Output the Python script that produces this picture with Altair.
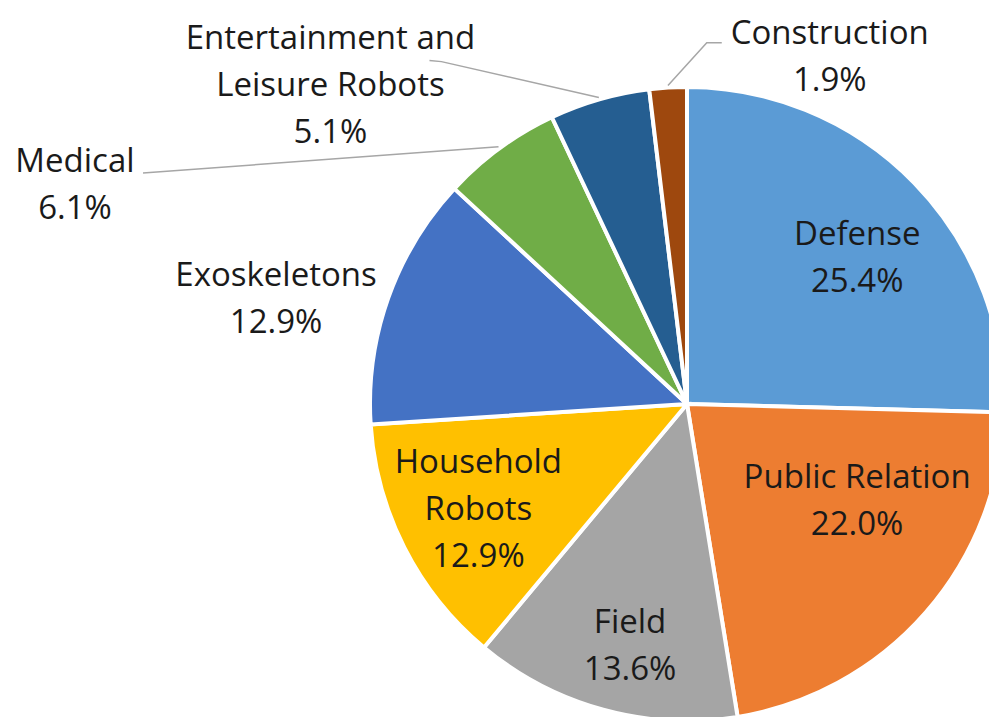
import math
import altair as alt
import pandas as pd

# ---- data ----
categories = ["Defense", "Public Relation", "Field", "Household Robots",
              "Exoskeletons", "Medical", "Entertainment and Leisure Robots", "Construction"]
values = [25.4, 22.0, 13.6, 12.9, 12.9, 6.1, 5.1, 1.9]
label_lines = [["Defense"], ["Public Relation"], ["Field"], ["Household", "Robots"],
               ["Exoskeletons"], ["Medical"], ["Entertainment and", "Leisure Robots"],
               ["Construction"]]
colors = ["#5B9BD5", "#ED7D31", "#A5A5A5", "#FFC000", "#4472C4", "#70AD47", "#255E91", "#9E480E"]

# ---- layout ----
W, H = 981, 709
CX, CY, R = 679, 396, 317
LH = 47
# label placement: (radius from centre, angle nudge in degrees) relative to slice mid angle
label_place = {
    "Defense": (224, 3.7),
    "Public Relation": (196, -11.4),
    "Field": (249, -2.1),
    "Household Robots": (234, 0.0),
    "Exoskeletons": (424, -5.3),
    "Medical": (650, -34.1),
    "Entertainment and Leisure Robots": (478, -32.2),
    "Construction": (375, 25.8),
}
# leader lines: elbow and end offsets relative to label centre
leaders = {
    "Medical": [(68, -12)],
    "Entertainment and Leisure Robots": [(111, -24), (99, -25)],
    "Construction": [(-123, -14.5), (-108, -14.5)],
}

total = sum(values)
pie_df = pd.DataFrame({"cat": categories, "value": values, "idx": range(len(values))})

rows, lrows = [], []
cum = 0.0
for i, (c, v) in enumerate(zip(categories, values)):
    mid = (cum + v / 2) / total * 360.0
    cum += v
    r, nudge = label_place[c]
    a = math.radians(mid + nudge)
    lx = CX + r * math.sin(a)
    ly = CY - r * math.cos(a)
    lines_ = label_lines[i] + [f"{v:.1f}%"]
    ty = ly - (len(lines_) - 1) / 2 * LH
    rows.append({"cat": c, "lx": lx, "ly": ty, "text": lines_})
    if c in leaders:
        am = math.radians(mid)
        pts = [(CX + (R + 2) * math.sin(am), CY - (R + 2) * math.cos(am))]
        pts += [(lx + dx, ly + dy) for dx, dy in leaders[c]]
        for k, (px, py) in enumerate(pts):
            lrows.append({"cat": c, "k": k, "px": px, "py": py})

lab_df = pd.DataFrame(rows)
lead_df = pd.DataFrame(lrows)

pie = alt.Chart(pie_df).mark_arc(outerRadius=R, stroke="white", strokeWidth=4).encode(
    theta=alt.Theta("value:Q", stack=True),
    color=alt.Color("cat:N", scale=alt.Scale(domain=categories, range=colors), legend=None),
    order=alt.Order("idx:Q"),
    x=alt.value(CX), y=alt.value(CY),
)

lines = alt.Chart(lead_df).mark_line(color="#A6A6A6", strokeWidth=1.5).encode(
    x=alt.X("px:Q", scale=None, axis=None),
    y=alt.Y("py:Q", scale=None, axis=None),
    detail="cat:N",
    order="k:Q",
)

texts = alt.Chart(lab_df).mark_text(
    font="Open Sans", fontSize=33, lineHeight=LH, align="center", baseline="middle", color="#1a1a1a"
).encode(
    x=alt.X("lx:Q", scale=None, axis=None),
    y=alt.Y("ly:Q", scale=None, axis=None),
    text="text",
)

chart = alt.layer(pie, lines, texts).properties(
    width=W, height=H,
    autosize=alt.AutoSizeParams(type="none"),
    padding=0,
    background="white",
).configure_view(stroke=None)

chart.save("out.html", embed_options={"renderer": "svg", "actions": False})
